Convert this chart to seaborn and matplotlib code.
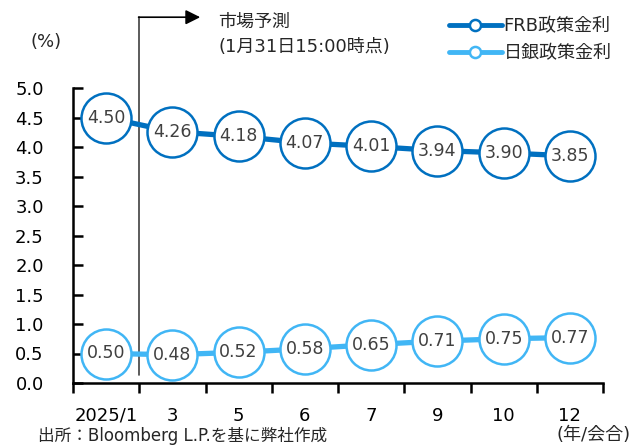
import numpy as np
import matplotlib
matplotlib.use("Agg")
import matplotlib.pyplot as plt
from matplotlib.lines import Line2D
import seaborn as sns

# データ
months = ["2025/1", "3", "5", "6", "7", "9", "10", "12"]
frb_rate = [4.50, 4.26, 4.18, 4.07, 4.01, 3.94, 3.90, 3.85]
boj_rate = [0.50, 0.48, 0.52, 0.58, 0.65, 0.71, 0.75, 0.77]
y_ticks = [0.0, 0.5, 1.0, 1.5, 2.0, 2.5, 3.0, 3.5, 4.0, 4.5, 5.0]

FRB_COLOR = "#0070C0"
BOJ_COLOR = "#41B6F5"
LABEL_COLOR = "#404040"

sns.set_theme(style="white")
plt.rcParams["font.family"] = ["DejaVu Sans", "Noto Sans CJK JP"]

W, H = 641, 445
fig = plt.figure(figsize=(W / 100, H / 100), dpi=100)
ax = fig.add_axes([73 / W, 62 / H, (603 - 73) / W, (383 - 88) / H])

x = np.arange(len(months))

for values, color in [(frb_rate, FRB_COLOR), (boj_rate, BOJ_COLOR)]:
    sns.lineplot(
        x=x, y=values, ax=ax, color=color, lw=3.8,
        marker="o", markersize=36, markerfacecolor="white",
        markeredgecolor=color, markeredgewidth=1.8, zorder=3,
    )
    for xi, v in zip(x, values):
        ax.text(xi, v, f"{v:.2f}", ha="center", va="center",
                fontsize=12.5, color=LABEL_COLOR, zorder=4)

ax.set_xlim(-0.5, len(months) - 0.5)
ax.set_ylim(0, 5)
ax.set_yticks(y_ticks)
ax.set_yticklabels([f"{t:.1f}" for t in y_ticks], fontsize=13, color="black")
ax.set_xticks(x)
ax.set_xticklabels(months, fontsize=13, color="black")
ax.set_xticks(np.arange(len(months) + 1) - 0.5, minor=True)
ax.tick_params(axis="x", which="major", bottom=True, length=0, pad=17)
ax.tick_params(axis="x", which="minor", bottom=True, direction="out",
               length=7, width=1.8, color="black")
ax.tick_params(axis="y", which="major", left=True, direction="in",
               length=7, width=1.8, color="black", pad=21)
ax.set_xlabel("")
ax.set_ylabel("")

for side in ["top", "right"]:
    ax.spines[side].set_visible(False)
for side in ["left", "bottom"]:
    ax.spines[side].set_color("black")
    ax.spines[side].set_linewidth(1.8)

# 市場予測の区切り線と矢印
ax.plot([0.5, 0.5], [0.14, 6.2], color="#404040", lw=1.2, clip_on=False, zorder=2)
ax.annotate("", xy=(1.42, 6.2), xytext=(0.49, 6.2), xycoords="data",
            arrowprops=dict(arrowstyle="-|>", color="black", lw=1.2,
                            mutation_scale=22, shrinkA=0, shrinkB=0),
            annotation_clip=False)

fig.text(218 / W, 1 - 22 / H, "市場予測", fontsize=13, va="center", ha="left")
fig.text(218 / W, 1 - 47 / H, "(1月31日15:00時点)", fontsize=13, va="center", ha="left")
fig.text(30 / W, 1 - 42 / H, "(%)", fontsize=13, va="center", ha="left")
fig.text(556 / W, 1 - 426 / H, "(年/会合)", fontsize=13, va="top", ha="left")
fig.text(38 / W, 1 - 427 / H, "出所：Bloomberg L.P.を基に弊社作成", fontsize=12, va="top", ha="left")

handles = [
    Line2D([0], [0], color=FRB_COLOR, lw=3.5, marker="o", markersize=8,
           markerfacecolor="white", markeredgecolor=FRB_COLOR, markeredgewidth=1.8),
    Line2D([0], [0], color=BOJ_COLOR, lw=3.5, marker="o", markersize=8,
           markerfacecolor="white", markeredgecolor=BOJ_COLOR, markeredgewidth=1.8),
]
fig.legend(handles, ["FRB政策金利", "日銀政策金利"], loc="upper left",
           bbox_to_anchor=(442 / W, 1 - 10 / H), frameon=False, fontsize=13,
           handlelength=2.9, handletextpad=0.1, labelspacing=0.5, borderaxespad=0)

fig.savefig("out.png", dpi=100)
